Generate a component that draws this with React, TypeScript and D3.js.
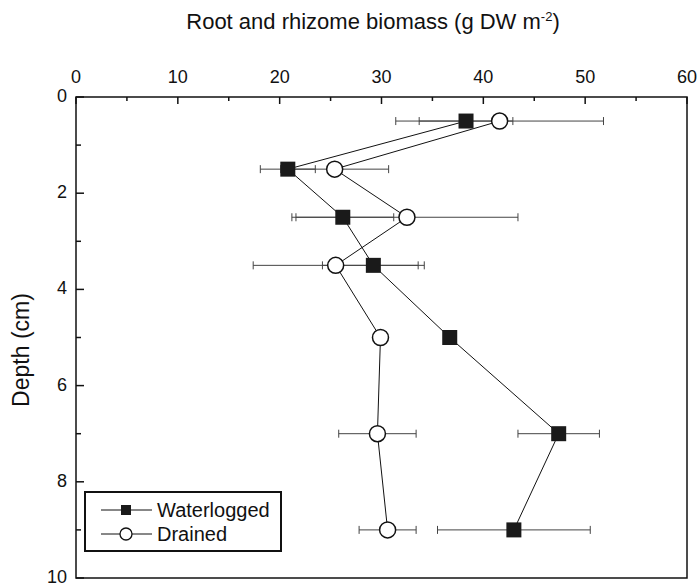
import React from "react";
import * as d3 from "d3";

const depths = [0.5, 1.5, 2.5, 3.5, 5, 7, 9];
const waterlogged = [38.3, 20.8, 26.2, 29.2, 36.7, 47.4, 43.0];
const waterloggedErr = [4.6, 2.7, 5.0, 5.0, 0, 4.0, 7.5];
const drained = [41.6, 25.4, 32.5, 25.5, 29.9, 29.6, 30.6];
const drainedErr = [10.2, 5.3, 10.9, 8.1, 0, 3.8, 2.8];
const xTicks = [0, 10, 20, 30, 40, 50, 60];
const yTicks = [0, 2, 4, 6, 8, 10];
const seriesNames = ["Waterlogged", "Drained"];

const W = 699, H = 586;
const L = 76, R = 687, T = 97, B = 578;
const FONT = "'Liberation Sans', Arial, sans-serif";

export default function App() {
  const x = d3.scaleLinear().domain([0, 60]).range([L, R]);
  const y = d3.scaleLinear().domain([0, 10]).range([T, B]);
  const line = d3.line<[number, number]>().x(d => x(d[0])).y(d => y(d[1]));
  const wPts: [number, number][] = depths.map((d, i) => [waterlogged[i], d]);
  const dPts: [number, number][] = depths.map((d, i) => [drained[i], d]);
  const xMinor = d3.range(5, 60, 10);
  const yMinor = d3.range(1, 10, 2);

  const errBars = (vals: number[], errs: number[], key: string) =>
    vals.map((v, i) => {
      if (!errs[i]) return null;
      const yy = y(depths[i]);
      const x0 = x(v - errs[i]);
      const x1 = x(v + errs[i]);
      return (
        <g key={key + i} stroke="#444" strokeWidth={1}>
          <line x1={x0} x2={x1} y1={yy} y2={yy} />
          <line x1={x0} x2={x0} y1={yy - 4} y2={yy + 4} />
          <line x1={x1} x2={x1} y1={yy - 4} y2={yy + 4} />
        </g>
      );
    });

  return (
    <svg width={W} height={H} style={{ position: "absolute", left: 0, top: 0, background: "#fff" }} fontFamily={FONT}>
      <rect x={0} y={0} width={W} height={H} fill="#fff" />
      {/* title */}
      <text x={373} y={29} textAnchor="middle" fontSize={22} fill="#111">
        Root and rhizome biomass (g DW m<tspan dy={-8} fontSize={13}>-2</tspan><tspan dy={8}>)</tspan>
      </text>
      <text transform={`translate(29,350) rotate(-90)`} textAnchor="middle" fontSize={23} fill="#111">
        Depth (cm)
      </text>

      {/* top ticks */}
      {xTicks.map(t => (
        <g key={"xt" + t}>
          <line x1={x(t)} x2={x(t)} y1={T} y2={T + 7} stroke="#111" strokeWidth={1.5} />
          <text x={x(t)} y={83} textAnchor="middle" fontSize={18} fill="#111">{t}</text>
        </g>
      ))}
      {xMinor.map(t => (
        <line key={"xm" + t} x1={x(t)} x2={x(t)} y1={T} y2={T + 4} stroke="#111" strokeWidth={1.5} />
      ))}
      {yTicks.map(t => (
        <g key={"yt" + t}>
          <line x1={L} x2={L + 8} y1={y(t)} y2={y(t)} stroke="#111" strokeWidth={1.5} />
          <text x={67} y={y(t) + 5} textAnchor="end" fontSize={18} fill="#111">{t}</text>
        </g>
      ))}
      {yMinor.map(t => (
        <line key={"ym" + t} x1={L} x2={L + 5} y1={y(t)} y2={y(t)} stroke="#111" strokeWidth={1.5} />
      ))}

      {/* series lines */}
      <path d={line(wPts) || ""} fill="none" stroke="#111" strokeWidth={1} />
      <path d={line(dPts) || ""} fill="none" stroke="#111" strokeWidth={1} />

      {errBars(waterlogged, waterloggedErr, "we")}
      {errBars(drained, drainedErr, "de")}

      {/* markers */}
      {wPts.map((p, i) => (
        <rect key={"ws" + i} x={x(p[0]) - 7.5} y={y(p[1]) - 7.5} width={15} height={15} fill="#1a1a1a" />
      ))}
      {dPts.map((p, i) => (
        <circle key={"dc" + i} cx={x(p[0])} cy={y(p[1])} r={8} fill="#fff" stroke="#111" strokeWidth={1.5} />
      ))}

      {/* frame */}
      <rect x={L} y={T} width={R - L} height={B - T} fill="none" stroke="#111" strokeWidth={1.5} />

      {/* legend */}
      <rect x={85} y={492} width={196} height={59} fill="#fff" stroke="#111" strokeWidth={2} />
      <line x1={101} x2={152} y1={510} y2={510} stroke="#111" strokeWidth={1} />
      <rect x={121} y={505} width={10} height={10} fill="#1a1a1a" />
      <text x={157} y={517} fontSize={20} fill="#111">{seriesNames[0]}</text>
      <line x1={101} x2={152} y1={534} y2={534} stroke="#111" strokeWidth={1} />
      <circle cx={126} cy={534} r={6} fill="#fff" stroke="#111" strokeWidth={1.3} />
      <text x={157} y={541} fontSize={20} fill="#111">{seriesNames[1]}</text>
    </svg>
  );
}
